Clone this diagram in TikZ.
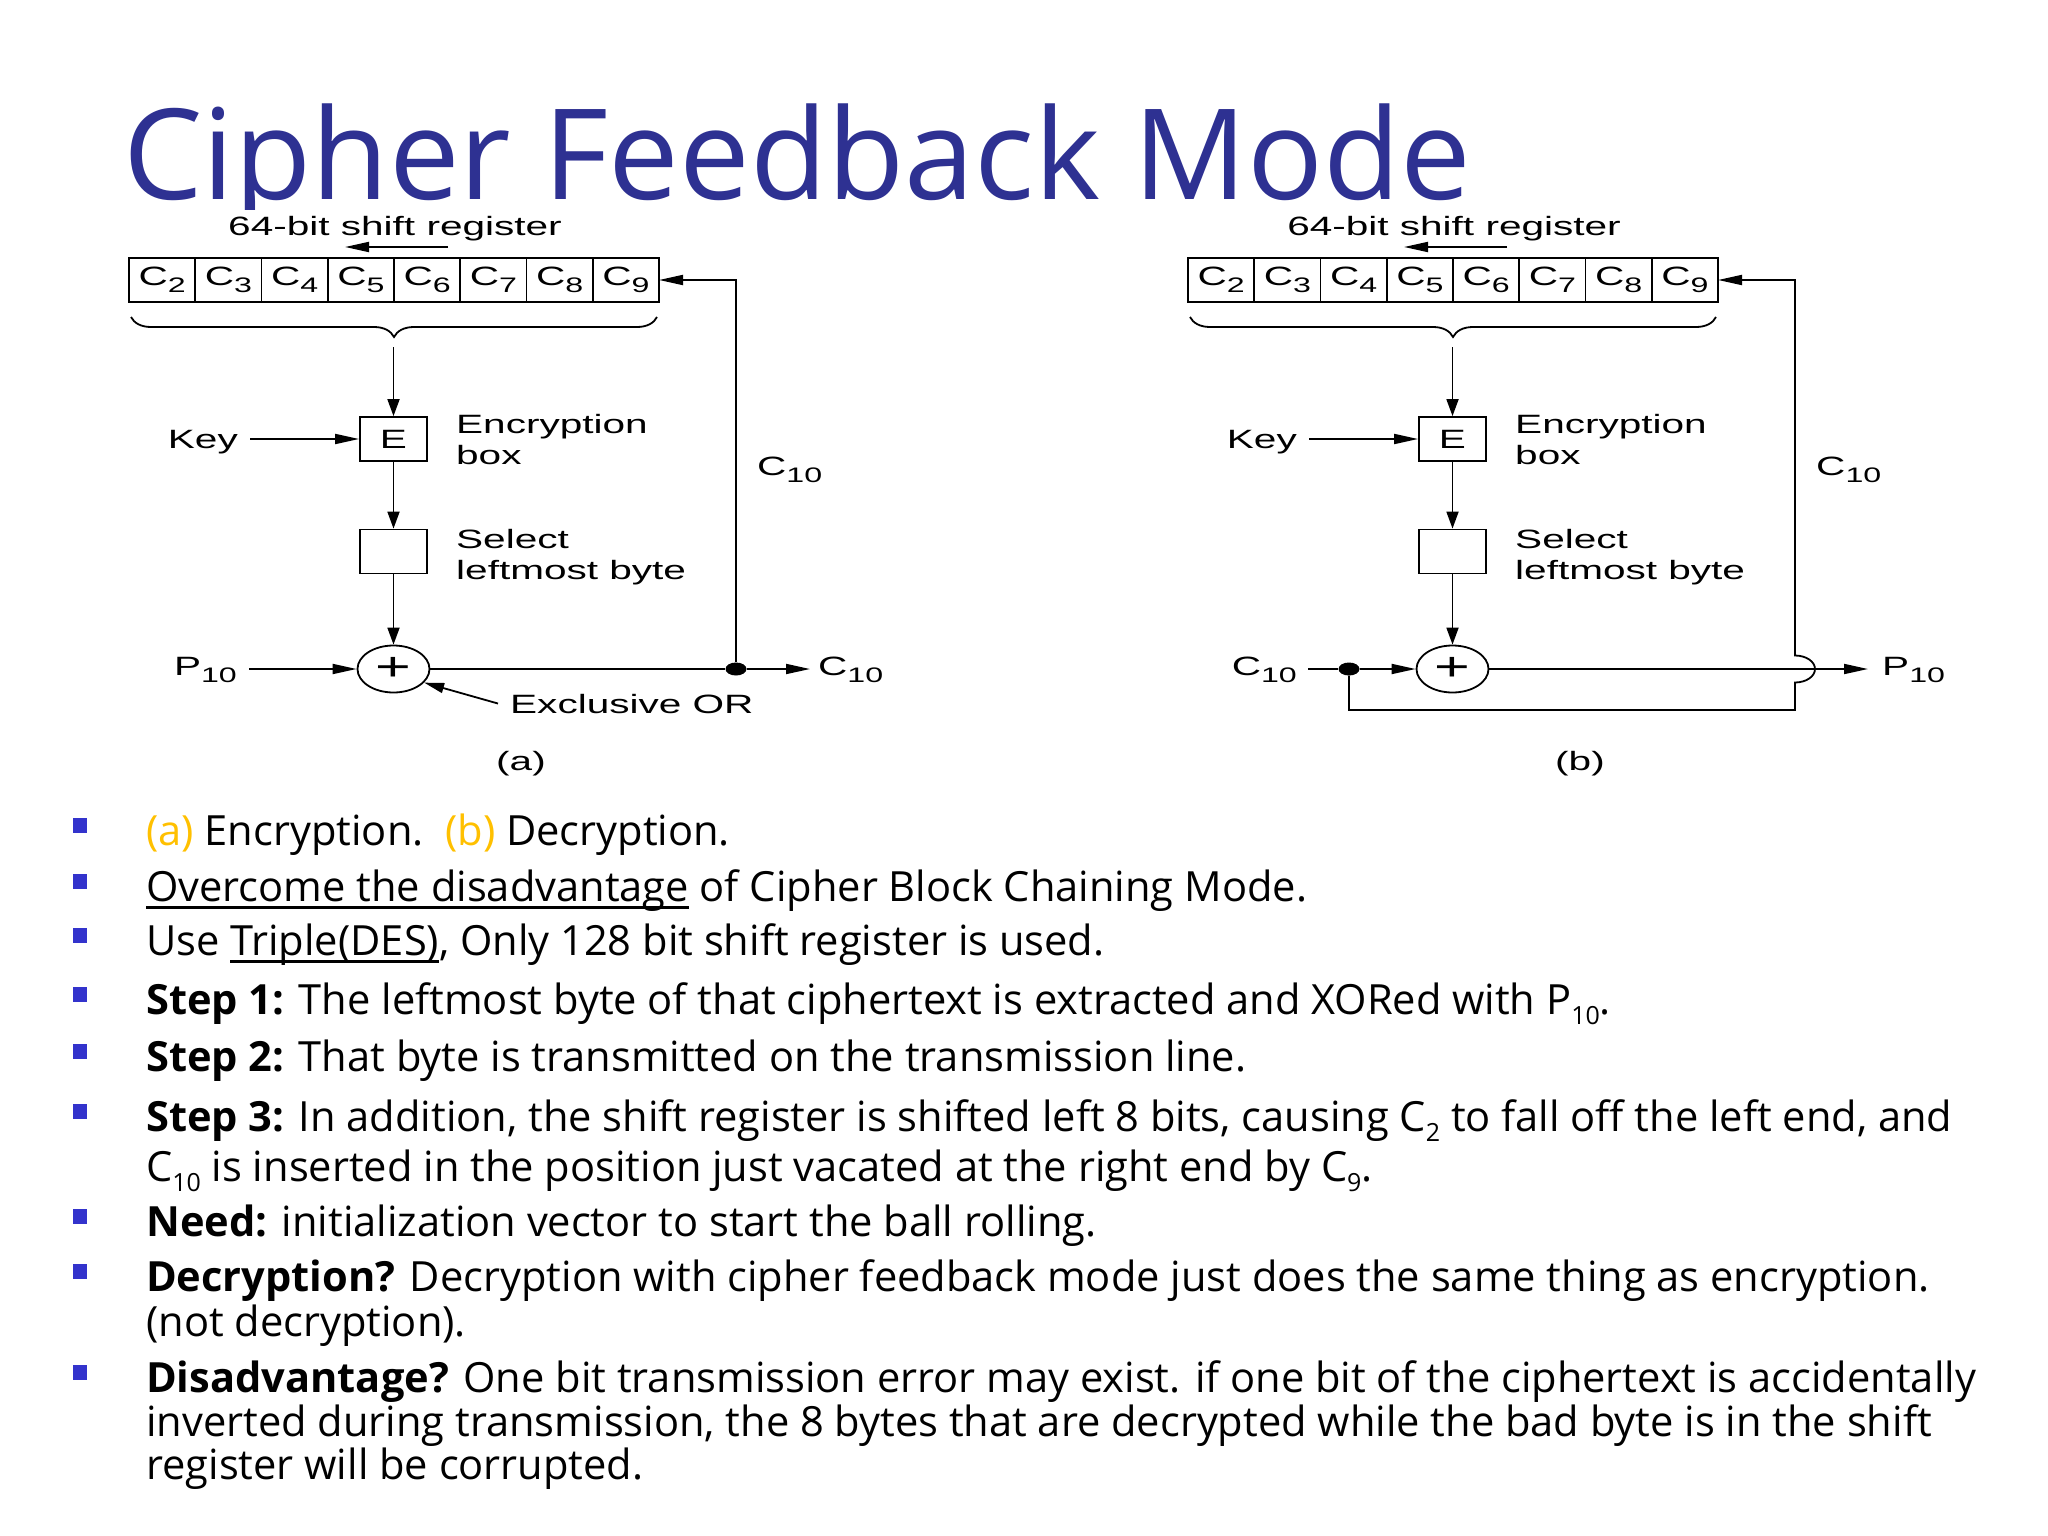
\documentclass[tikz,border=0pt]{standalone}
\usepackage{fontspec}
\setmainfont{Open Sans}
\newfontfamily\dgf[FakeStretch=1.53]{Liberation Sans}
\usetikzlibrary{arrows.meta,shapes.geometric,decorations.pathreplacing,calc}
\definecolor{titleblue}{HTML}{2E3192}
\definecolor{bulletblue}{HTML}{3333CC}
\definecolor{gold}{HTML}{FFC000}
\newcommand\dgfont{\dgf\fontsize{26.5}{31.5}\selectfont}
\newcommand\dsub[1]{\raisebox{-7pt}{\fontsize{21}{21}\selectfont #1}}
\newcommand\tsub[1]{\raisebox{-10pt}{\fontsize{25}{25}\selectfont #1}}
\newcommand\twol[2]{\begin{tabular}[t]{@{}l@{}}#1\\#2\end{tabular}}
\newcommand\myul[1]{\setbox0\hbox{#1}\rlap{\rule[-8pt]{\wd0}{2.6pt}}\box0\relax}
\newcommand\regpart[2]{%
  \begin{scope}[xshift=#2]
    \foreach \i/\n in {1/2,2/3,3/4,4/5,5/6,6/7,7/8,8/9}
      \node[cell] (#1\i) at ({129+66.25*(\i-0.5)},280) {C\dsub{\n}};
    \node[lbl,anchor=base] (#1sr) at (395,235) {64-bit shift register};
    \coordinate (#1sh1) at (448,247);
    \coordinate (#1sh2) at (345,247);
    \draw[ln,harr] (#1sh1) -- (#1sh2);
    \draw[ln,decorate,decoration={brace,mirror,amplitude=20pt}]
      ($(#11.south west)+(2,15)$) -- ($(#18.south east)+(-2,15)$);
    \coordinate (#1bt) at (393.5,347);
    \node[box] (#1E) at (393.5,439) {E};
    \node[box] (#1S) at (393.5,551.5) {};
    \node[xorn] (#1X) at (393.5,669) {\fontsize{40}{40}\selectfont +};
    \node[lbl,anchor=base east,inner xsep=12pt] (#1key) at (250,448) {Key};
    \node[lbl,anchor=base west] (#1enc) at (456,433) {\twol{Encryption}{box}};
    \node[lbl,anchor=base west] (#1sel) at (456,548) {\twol{Select}{leftmost byte}};
    \draw[ln,varr] (#1bt) -- (#1E.north);
    \draw[ln,harr] (#1key.east |- #1E.west) -- (#1E.west);
    \draw[ln,varr] (#1E) -- (#1S);
    \draw[ln,varr] (#1S) -- (#1X);
  \end{scope}}
\begin{document}
\begin{tikzpicture}[x=1pt,y=-1pt,
  ln/.style={line width=1.8pt},
  harr/.style={-{Triangle[length=24pt,width=10pt]}},
  varr/.style={-{Triangle[length=17pt,width=12pt]}},
  darr/.style={-{Triangle[length=20pt,width=10pt]}},
  lbl/.style={font=\dgfont,inner sep=0pt},
  cell/.style={draw,line width=1.8pt,minimum width=66.25pt,minimum height=44pt,inner sep=0pt,outer sep=0pt,font=\dgfont},
  box/.style={draw,line width=1.8pt,minimum width=67pt,minimum height=44pt,inner sep=0pt,font=\dgfont},
  xorn/.style={draw,ellipse,line width=1.8pt,minimum width=72pt,minimum height=47pt,inner sep=0pt,font=\dgf},
  dotn/.style={ellipse,fill=black,minimum width=21pt,minimum height=13pt,inner sep=0pt},
  bsq/.style={fill=bulletblue,minimum width=14pt,minimum height=15pt,inner sep=0pt},
  body/.style={anchor=base west,inner sep=0pt,font=\fontsize{41.6}{50}\selectfont}]
\useasboundingbox (0,0) rectangle (2048,1536);
\fill[white] (0,0) rectangle (2048,1536);

\node[anchor=base west,inner sep=0pt,text depth=0pt,text=titleblue,font=\fontsize{126}{126}\selectfont] (title) at (123,199) {Cipher Feedback Mode};
% white background of the pasted figure (covers the title's descenders)
\fill[white] (105,210) rectangle (1990,800);

% ---------- (a) encryption ----------
\regpart{a}{0pt}
\node[dotn] (Da) at (736,669) {};
\node[lbl,anchor=base east,inner xsep=12pt] (Pa) at (249,675) {P\dsub{10}};
\draw[ln,harr] (Pa.east |- aX.west) -- (aX.west);
\draw[ln] (aX) -- (Da);
\node[lbl,anchor=base west,inner xsep=8pt] (Coa) at (810,675) {C\dsub{10}};
\draw[ln,harr] (Da) -- (Coa.west |- Da);
\draw[ln,harr] (Da) -- (Da |- a8.east) -- (a8.east);
\node[lbl,anchor=base west] (Cfa) at (757,475) {C\dsub{10}};
\node[lbl,anchor=base west,inner xsep=12pt] (xora) at (498,713) {Exclusive OR};
\draw[ln,darr] (xora.west) -- (aX.-24);
\node[lbl,anchor=base] (capa) at (521,770) {(a)};

% ---------- (b) decryption ----------
\regpart{b}{1059pt}
\node[dotn] (Db) at (1349,669) {};
\node[lbl,anchor=base east,inner xsep=11pt] (Cib) at (1308,675) {C\dsub{10}};
\draw[ln] (Cib.east |- bX.west) -- (Db);
\draw[ln,harr] (Db) -- (bX.west);
\node[lbl,anchor=base west,inner xsep=14pt] (Pob) at (1868,675) {P\dsub{10}};
\draw[ln,harr] (bX.east) -- (Pob.west |- bX.east);
\coordinate (fbb) at (1795,710);
\draw[ln,harr] (Db) -- (Db |- fbb) -- (fbb) -- ++(0,-27.5)
  arc[start angle=-90,end angle=90,x radius=20pt,y radius=13.5pt]
  -- (fbb |- b8.east) -- (b8.east);
\node[lbl,anchor=base west] (Cfb) at (1816,475) {C\dsub{10}};
\node[lbl,anchor=base] (capb) at (1580,770) {(b)};

% ---------- bullets ----------
\foreach \b [count=\k] in {845,901,955,1014,1071,1131,1236,1291,1392}
  \node[bsq] (q\k) at (80,\b-19.5) {};
\node[body] (t1) at (146,845) {{\color{gold}(a)} Encryption.\ \ {\color{gold}(b)} Decryption.};
\node[body] (t2) at (146,901) {\myul{Overcome the disadvantage} of Cipher Block Chaining Mode.};
\node[body] (t3) at (146,955) {Use \myul{Triple(DES)}, Only 128 bit shift register is used.};
\node[body] (t4) at (146,1014) {\textbf{Step 1:} The leftmost byte of that ciphertext is extracted and XORed with P\tsub{10}.};
\node[body] (t5) at (146,1071) {\textbf{Step 2:} That byte is transmitted on the transmission line.};
\node[body] (t6) at (146,1131) {\textbf{Step 3:} In addition, the shift register is shifted left 8 bits, causing C\tsub{2} to fall off the left end, and};
\node[body] (t7) at (146,1181) {C\tsub{10} is inserted in the position just vacated at the right end by C\tsub{9}.};
\node[body] (t8) at (146,1236) {\textbf{Need:} initialization vector to start the ball rolling.};
\node[body] (t9) at (146,1291) {\textbf{Decryption?} Decryption with cipher feedback mode just does the same thing as encryption.};
\node[body] (t10) at (146,1336) {(not decryption).};
\node[body] (t11) at (146,1392) {\textbf{Disadvantage?} One bit transmission error may exist. if one bit of the ciphertext is accidentally};
\node[body] (t12) at (146,1436) {inverted during transmission, the 8 bytes that are decrypted while the bad byte is in the shift};
\node[body] (t13) at (146,1479) {register will be corrupted.};
\end{tikzpicture}
\end{document}
